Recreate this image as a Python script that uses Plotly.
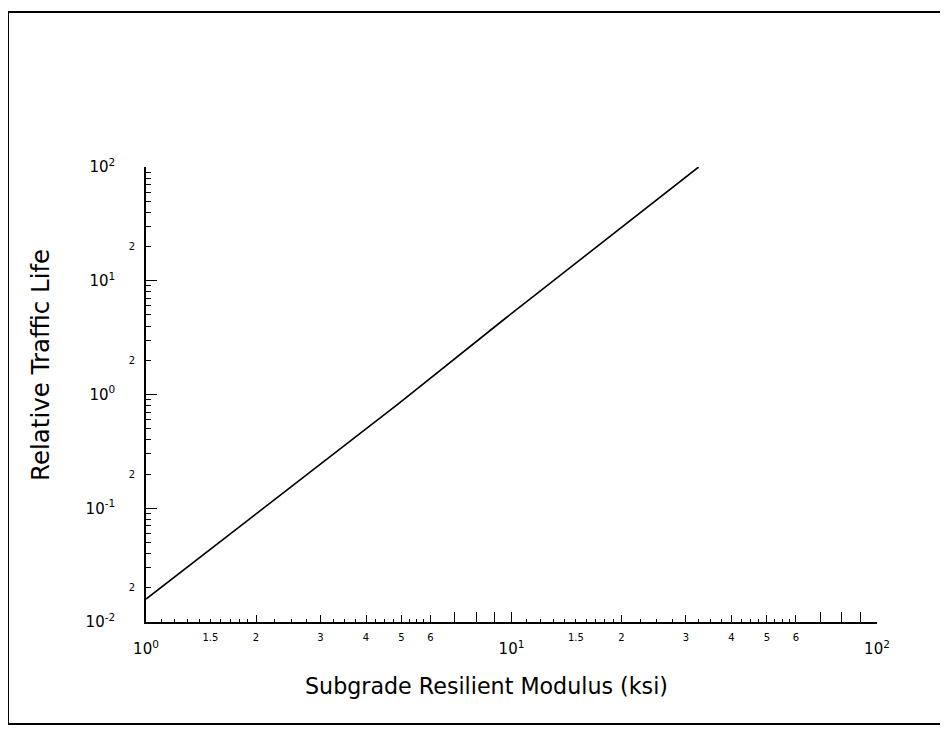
import plotly.graph_objects as go

# ---- data ----
modulus_ksi = [1.0, 3.13, 4.93, 9.57, 13.5, 32.5]
relative_life = [0.0159, 0.271, 0.84, 4.61, 11.0, 100.0]

# ---- tick labels ----
x_major_vals = [1, 10, 100]
x_major_text = ["10<sup>0</sup>", "10<sup>1</sup>", "10<sup>2</sup>"]
x_small_vals = [1.5, 2, 3, 4, 5, 6, 15, 20, 30, 40, 50, 60]
x_small_text = ["1.5", "2", "3", "4", "5", "6", "1.5", "2", "3", "4", "5", "6"]
y_major_vals = [0.01, 0.1, 1, 10, 100]
y_major_text = ["10<sup>-2</sup>", "10<sup>-1</sup>", "10<sup>0</sup>", "10<sup>1</sup>", "10<sup>2</sup>"]
y_small_vals = [0.02, 0.2, 2, 20]
y_small_text = ["2", "2", "2", "2"]

x_title = "Subgrade Resilient Modulus (ksi)"
y_title = "Relative Traffic Life"

FONT = "DejaVu Sans"
OFF = 8                      # page body margin added by the html page
W, H = 948 - OFF, 730 - OFF
L = 146 - OFF
T = 167 - OFF
R = W - (877 - OFF)
B = H - (622 - OFF)
pw, ph = W - L - R, H - T - B


def px_x(p):  # page pixel -> paper x
    return (p - OFF - L) / pw


def px_y(p):  # page pixel -> paper y
    return (H - B - (p - OFF)) / ph


decades = [1, 10]
x_long = [m * d for d in decades for m in (7, 8, 9)]
x_minor = [m * d for d in decades for m in (2, 3, 4, 5, 6)]
x_tiny = []
for d in decades:
    x_tiny += [round((1 + k / 10) * d, 4) for k in range(1, 10)]
    x_tiny += [round((2 + k / 4) * d, 4) for k in range(0, 16) if k % 4 != 0]
y_minor = [m * d for d in (0.01, 0.1, 1, 10) for m in range(2, 10)]

fig = go.Figure()
fig.add_trace(go.Scatter(x=modulus_ksi, y=relative_life, mode="lines",
                         line=dict(color="black", width=1.6), showlegend=False,
                         hoverinfo="skip"))
for xa, ya in (("x2", "y2"), ("x3", "y2"), ("x4", "y2")):
    fig.add_trace(go.Scatter(x=modulus_ksi, y=relative_life, mode="lines",
                             line=dict(color="rgba(0,0,0,0)", width=0), showlegend=False,
                             xaxis=xa, yaxis=ya, hoverinfo="skip"))

common = dict(type="log", showgrid=False, zeroline=False)
xover = dict(**common, range=[0, 2], overlaying="x", anchor="y", side="bottom", showline=False)

fig.update_layout(
    width=W, height=H,
    margin=dict(l=L, r=R, t=T, b=B, pad=0),
    paper_bgcolor="white", plot_bgcolor="white",
    font=dict(family=FONT, color="black"),
    xaxis=dict(**common, range=[0, 2], showline=True, linecolor="black", linewidth=1.6,
               tickmode="array", tickvals=x_major_vals, ticktext=x_major_text,
               ticks="inside", ticklen=10, tickwidth=1.3, tickcolor="black",
               tickfont=dict(size=15, family=FONT), ticklabelstandoff=12,
               minor=dict(tickmode="array", tickvals=x_minor, ticks="inside",
                          ticklen=7, tickwidth=1.2, tickcolor="black", showgrid=False)),
    xaxis2=dict(**xover, tickmode="array", tickvals=x_tiny, showticklabels=False,
                ticks="inside", ticklen=3, tickwidth=1.1, tickcolor="black"),
    xaxis3=dict(**xover, tickmode="array", tickvals=x_small_vals, ticktext=x_small_text,
                ticks="inside", ticklen=3, tickwidth=1.1, tickcolor="black",
                tickfont=dict(size=10, family=FONT), ticklabelstandoff=8),
    xaxis4=dict(**xover, tickmode="array", tickvals=x_long, showticklabels=False,
                ticks="inside", ticklen=10, tickwidth=1.3, tickcolor="black"),
    yaxis=dict(**common, range=[-2, 2], showline=True, linecolor="black", linewidth=1.6,
               tickmode="array", tickvals=y_major_vals, ticktext=y_major_text,
               ticks="inside", ticklen=11, tickwidth=1.3, tickcolor="black",
               tickfont=dict(size=15, family=FONT), ticklabelstandoff=26,
               minor=dict(tickmode="array", tickvals=y_minor, ticks="inside",
                          ticklen=5, tickwidth=1.1, tickcolor="black", showgrid=False)),
    yaxis2=dict(**common, range=[-2, 2], overlaying="y", anchor="x", side="left",
                showline=False, tickmode="array", tickvals=y_small_vals, ticktext=y_small_text,
                ticks="", tickfont=dict(size=10, family=FONT), ticklabelstandoff=10),
    annotations=[
        dict(text=x_title, xref="paper", yref="paper", x=px_x(486), y=px_y(686),
             showarrow=False, font=dict(size=22.2, family=FONT), xanchor="center", yanchor="middle"),
        dict(text=y_title, xref="paper", yref="paper", x=px_x(40), y=px_y(365),
             showarrow=False, textangle=-90, font=dict(size=24.5, family=FONT),
             xanchor="center", yanchor="middle"),
    ],
    shapes=[
        dict(type="rect", xref="paper", yref="paper",
             x0=px_x(8), x1=px_x(943), y0=px_y(724), y1=px_y(12),
             line=dict(color="black", width=2), fillcolor="rgba(0,0,0,0)", layer="below"),
    ],
)

fig.write_html("out.html")
